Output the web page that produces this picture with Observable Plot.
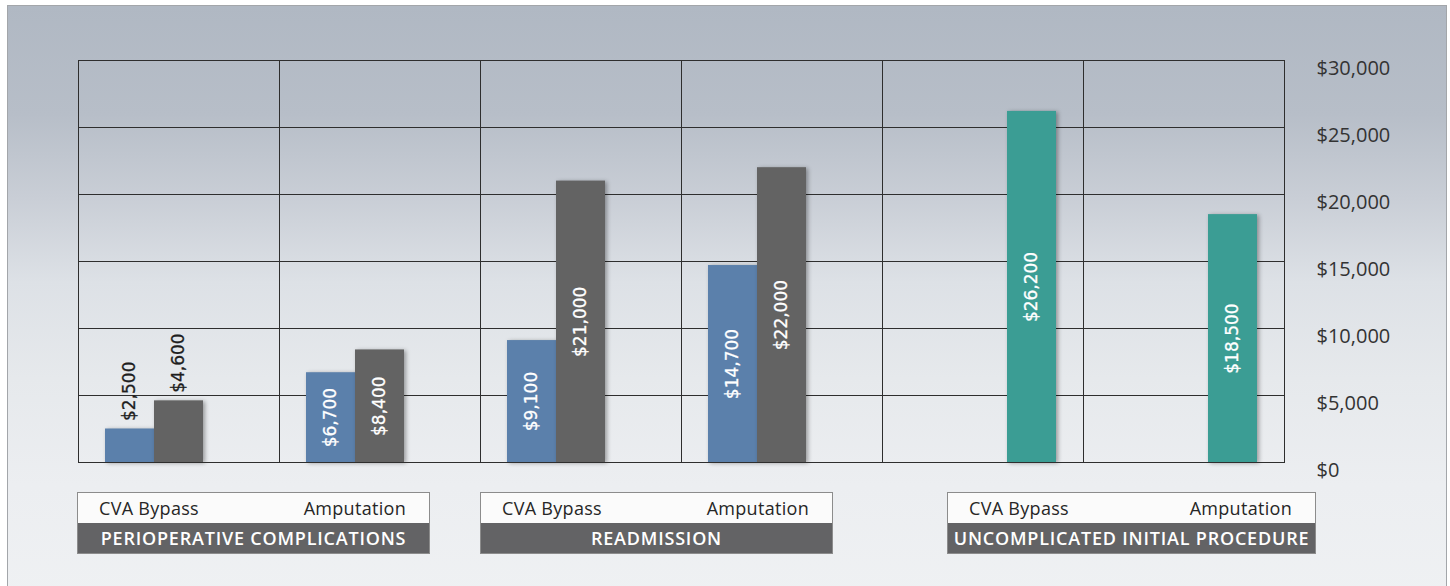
<!DOCTYPE html>
<html>
<head>
<meta charset="utf-8">
<script src="https://cdn.jsdelivr.net/npm/d3@7"></script>
<script src="https://cdn.jsdelivr.net/npm/@observablehq/plot@0.6"></script>
<style>
  html, body { margin: 0; padding: 0; background: #ffffff; overflow: hidden; }
  #wrap { position: relative; width: 1450px; height: 586px; overflow: hidden; }
  #panel {
    position: absolute; left: 7px; top: 5px; width: 1438px; height: 600px;
    border: 1px solid #a3a6aa;
    background: linear-gradient(to bottom, #b0b8c3 0%, #b7bec8 18%, #c9ced6 32%, #dde1e6 46%, #e6e9ec 62%, #eceef1 80%, #eff1f3 100%);
  }
  #chart { position: absolute; left: 0; top: 0; }
  .bars rect { filter: drop-shadow(2px 1px 2px rgba(0,0,0,0.35)); }
  .box { position: absolute; top: 492px; box-sizing: border-box; border: 1px solid #8c8c8c; font-family: "Open Sans", Lato, sans-serif; }
  .box .top { height: 30px; background: #fbfbfb; display: flex; justify-content: space-between; align-items: center; padding: 0 23px 0 21px; font-size: 18px; letter-spacing: 0.3px; color: #262626; }
  .box .bot { height: 30px; background: #636365; color: #ffffff; display: flex; justify-content: center; align-items: center; font-size: 18px; font-weight: 600; letter-spacing: 0.8px; white-space: nowrap; }
</style>
</head>
<body>
<div id="wrap">
  <div id="panel"></div>
  <div id="chart"></div>
  <div id="boxes"></div>
</div>
<script>
// ---- data ----
const groups = ["PERIOPERATIVE COMPLICATIONS", "READMISSION", "UNCOMPLICATED INITIAL PROCEDURE"];
const procedures = ["CVA Bypass", "Amputation"];
const seriesKeys = ["Series 1", "Series 2", "Series 3"];
const seriesColors = ["#5b80ab", "#636363", "#3b9d94"];
// values per column: PC-CVA, PC-Amp, RA-CVA, RA-Amp, UIP-CVA, UIP-Amp
const series1Values = [2500, 6700, 9100, 14700, null, null];
const series2Values = [4600, 8400, 21000, 22000, null, null];
const series3Values = [null, null, null, null, 26200, 18500];
const yTicks = [0, 5000, 10000, 15000, 20000, 25000, 30000];

// ---- build table ----
const columnKeys = [];
groups.forEach(g => procedures.forEach(p => columnKeys.push(g + " · " + p)));
const seriesValues = [series1Values, series2Values, series3Values];
const rows = [];
columnKeys.forEach((col, i) => {
  seriesKeys.forEach((s, j) => {
    const v = seriesValues[j][i];
    if (v != null) rows.push({column: col, series: s, value: v});
  });
});
const insideMin = 6000;
const fmt = d3.format(",");
const money = d => "$" + fmt(d);

const chart = Plot.plot({
  width: 1450,
  height: 586,
  marginLeft: 77,
  marginRight: 166,
  marginTop: 60,
  marginBottom: 124,
  style: {background: "transparent", fontFamily: "'Open Sans', Lato, sans-serif", overflow: "visible"},
  fx: {domain: columnKeys, padding: 0, axis: null},
  x: {domain: seriesKeys, paddingInner: 0, paddingOuter: 0.55, axis: null},
  y: {domain: [0, 30000], axis: null, label: null},
  color: {domain: seriesKeys, range: seriesColors},
  marks: [
    Plot.ruleY(yTicks.slice(1, -1), {stroke: "#2e2e2e", strokeWidth: 1}),
    Plot.barY(rows, {fx: "column", x: "series", y: "value", fill: "series", className: "bars"}),
    Plot.frame({stroke: "#2e2e2e", strokeWidth: 1}),
    Plot.text(rows.filter(d => d.value >= insideMin), {
      fx: "column", x: "series", y: d => d.value / 2, text: d => money(d.value),
      rotate: -90, textAnchor: "middle", lineAnchor: "middle", fill: "#ffffff",
      stroke: "#ffffff", strokeWidth: 0.3,
      fontFamily: "DejaVu Sans", fontSize: 17
    }),
    Plot.text(rows.filter(d => d.value < insideMin), {
      fx: "column", x: "series", y: "value", text: d => money(d.value),
      rotate: -90, textAnchor: "start", lineAnchor: "middle", fill: "#1e1e1e", dy: -8,
      stroke: "#1e1e1e", strokeWidth: 0.3,
      fontFamily: "DejaVu Sans", fontSize: 17
    }),
    Plot.axisY(yTicks, {anchor: "right", label: null, tickSize: 0, tickPadding: 32, tickFormat: money, fontSize: 20, dy: 8, color: "#333333"})
  ]
});
document.getElementById("chart").appendChild(chart);

// ---- category boxes below the columns ----
const boxLayout = [
  {left: 77, width: 353},
  {left: 480, width: 353},
  {left: 947, width: 369}
];
const boxes = document.getElementById("boxes");
groups.forEach((g, i) => {
  const b = document.createElement("div");
  b.className = "box";
  b.style.left = boxLayout[i].left + "px";
  b.style.width = boxLayout[i].width + "px";
  b.innerHTML = `<div class="top"><span>${procedures[0]}</span><span>${procedures[1]}</span></div><div class="bot">${g}</div>`;
  boxes.appendChild(b);
});
</script>
</body>
</html>
